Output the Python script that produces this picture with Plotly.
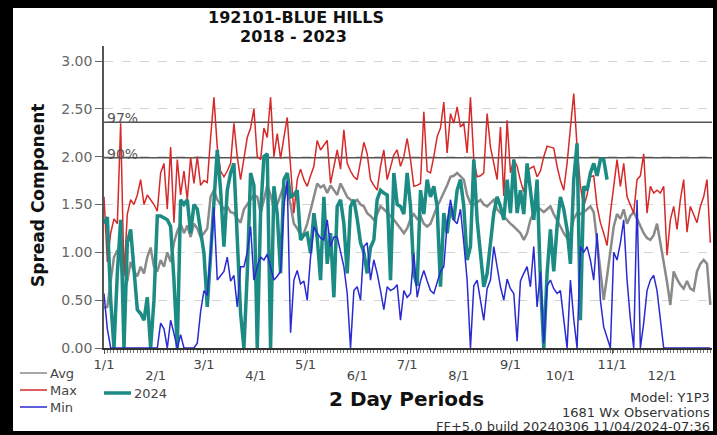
import plotly.graph_objects as go

# ---------------- data ----------------
month_start_days = [0, 31, 60, 91, 121, 152, 182, 213, 244, 274, 305, 335]
month_labels = ["1/1", "2/1", "3/1", "4/1", "5/1", "6/1", "7/1", "8/1", "9/1", "10/1", "11/1", "12/1"]

max_vals = [
    1.58, 0.90, 1.20, 1.35, 1.30, 2.35, 0.75, 1.40, 1.55, 1.50,
    1.60, 1.76, 1.50, 1.60, 1.55, 1.50, 1.43, 1.83, 1.93, 1.45,
    2.10, 1.31, 1.97, 1.60, 1.85, 1.55, 1.99, 1.72, 2.00, 1.70,
    1.75, 1.73, 2.20, 2.62, 2.10, 1.85, 1.79, 1.85, 1.93, 2.35,
    2.00, 1.76, 1.98, 2.20, 2.30, 2.50, 2.00, 1.97, 2.30, 2.20,
    2.62, 2.00, 2.24, 1.98, 2.20, 2.41, 1.90, 1.41, 1.76, 1.87,
    1.76, 1.69, 1.80, 1.90, 2.17, 2.07, 2.12, 2.17, 1.72, 1.90,
    2.07, 1.87, 2.28, 1.93, 1.85, 1.79, 1.76, 1.95, 2.15, 2.03,
    1.76, 1.70, 1.65, 1.90, 2.07, 1.76, 1.90, 2.02, 2.07, 1.90,
    2.00, 2.19, 1.97, 1.69, 1.70, 1.72, 2.47, 1.85, 1.83, 2.00,
    2.21, 2.30, 2.57, 2.04, 2.45, 2.35, 2.52, 2.31, 2.35, 2.04,
    2.62, 1.97, 1.79, 1.80, 1.83, 2.45, 2.10, 1.93, 1.76, 2.31,
    1.59, 2.38, 1.83, 1.97, 1.90, 1.75, 1.63, 1.86, 1.88, 1.90,
    1.79, 1.85, 2.00, 2.11, 2.10, 2.09, 1.90, 1.75, 1.65, 1.93,
    2.30, 2.66, 2.10, 1.69, 1.48, 1.60, 1.79, 1.80, 1.48, 1.31,
    1.20, 1.07, 1.41, 1.69, 1.97, 1.69, 1.93, 1.58, 1.50, 1.41,
    1.76, 1.80, 2.03, 1.41, 1.69, 1.62, 1.65, 1.62, 1.69, 0.97,
    1.34, 1.48, 1.24, 1.55, 1.76, 1.21, 1.48, 1.40, 1.31, 1.48,
    1.58, 1.76, 1.10,
]

avg_vals = [
    0.42, 0.43, 0.70, 0.95, 1.02, 0.90, 0.60, 0.70, 0.90, 0.80,
    0.75, 0.85, 0.78, 0.95, 1.05, 0.85, 0.80, 0.92, 0.85, 1.00,
    0.90, 1.10, 1.22, 1.30, 1.20, 1.28, 1.16, 1.30, 1.25, 1.16,
    1.20, 1.25, 1.58, 1.65, 1.55, 1.50, 1.45, 1.48, 1.42, 1.41,
    1.35, 1.31, 1.45, 1.50, 1.55, 1.60, 1.58, 1.41, 1.55, 1.70,
    1.60, 1.45, 1.50, 1.60, 1.70, 1.62, 1.50, 1.30, 1.25, 1.18,
    1.20, 1.30, 1.45, 1.60, 1.72, 1.68, 1.70, 1.62, 1.70, 1.65,
    1.60, 1.72, 1.65, 1.58, 1.55, 1.52, 1.55, 1.50, 1.48, 1.41,
    1.38, 1.34, 1.40, 1.48, 1.45, 1.42, 1.38, 1.34, 1.30, 1.25,
    1.20, 1.25, 1.35, 1.40, 1.35, 1.38, 1.30, 1.27, 1.30, 1.40,
    1.48, 1.55, 1.62, 1.70, 1.79, 1.80, 1.83, 1.80, 1.76, 1.60,
    1.51, 1.50, 1.52, 1.55, 1.50, 1.48, 1.52, 1.55, 1.45, 1.41,
    1.38, 1.34, 1.30, 1.27, 1.24, 1.20, 1.13, 1.20, 1.34, 1.42,
    1.48, 1.45, 1.42, 1.45, 1.48, 1.40, 1.34, 1.27, 1.20, 1.15,
    1.20, 1.35, 1.41, 1.40, 1.42, 1.45, 1.48, 1.42, 1.10, 0.80,
    0.50, 0.75, 1.00, 1.27, 1.40, 1.35, 1.45, 1.30, 1.38, 1.42,
    1.35, 1.27, 1.20, 1.15, 1.13, 1.18, 1.30, 1.10, 0.90, 0.69,
    0.45, 0.80, 0.72, 0.66, 0.62, 0.70, 0.62, 0.60, 0.80, 0.88,
    0.92, 0.88, 0.45,
]

min_vals = [
    0.57, 0.20, 0.00, 0.00, 0.00, 0.00, 0.00, 0.00, 0.00, 0.00,
    0.00, 0.00, 0.00, 0.00, 0.00, 0.00, 0.00, 0.26, 0.20, 0.00,
    0.29, 0.15, 0.00, 0.14, 0.00, 0.00, 0.00, 0.00, 0.05, 0.38,
    0.60, 0.55, 0.99, 1.47, 0.71, 0.75, 0.80, 0.95, 0.70, 0.76,
    0.43, 0.85, 0.85, 1.00, 1.27, 0.71, 0.85, 0.95, 0.92, 0.98,
    0.85, 0.71, 0.75, 0.80, 1.48, 1.75, 0.16, 0.71, 0.81, 0.67,
    0.70, 0.50, 0.95, 1.27, 1.20, 1.15, 1.13, 1.34, 1.06, 1.16,
    1.16, 1.00, 0.85, 0.57, 0.00, 0.60, 0.64, 0.50, 1.06, 1.10,
    0.71, 0.92, 0.78, 0.60, 0.40, 0.64, 0.60, 0.62, 0.66, 0.29,
    0.60, 0.53, 0.57, 0.99, 0.53, 0.70, 0.81, 0.70, 0.60, 0.57,
    0.70, 0.80, 0.85, 1.30, 1.55, 1.34, 1.30, 1.45, 1.10, 0.71,
    0.00, 0.65, 0.71, 0.50, 0.29, 0.62, 0.71, 1.06, 0.85, 0.64,
    0.50, 0.72, 0.62, 0.57, 0.07, 0.70, 0.78, 0.85, 0.64, 1.06,
    0.43, 0.80, 0.05, 0.65, 0.71, 0.62, 0.57, 0.60, 0.30, 0.00,
    0.71, 0.30, 0.00, 1.06, 1.00, 1.06, 0.92, 0.71, 1.20, 0.50,
    0.22, 0.10, 0.00, 1.00, 0.92, 1.10, 1.34, 0.71, 0.30, 0.00,
    1.55, 0.00, 0.26, 0.60, 0.71, 0.76, 0.60, 0.30, 0.00, 0.00,
    0.00, 0.00, 0.00, 0.00, 0.00, 0.00, 0.00, 0.00, 0.00, 0.00,
    0.00, 0.00, 0.00,
]

y2024_vals = [
    1.30, 1.37, 0.50, 0.00, 0.78, 1.34, 0.00, 1.10, 1.24, 0.80,
    0.40, 0.36, 0.29, 0.53, 0.00, 0.50, 1.38, 1.38, 1.36, 1.34,
    1.27, 0.71, 0.00, 1.55, 1.50, 1.55, 1.20, 1.50, 1.45, 1.20,
    0.99, 0.43, 1.00, 1.55, 2.07, 1.65, 1.06, 1.65, 1.83, 1.93,
    1.06, 0.36, 0.00, 0.78, 1.83, 1.70, 0.00, 1.41, 2.00, 2.03,
    0.00, 1.69, 1.40, 0.78, 1.76, 1.83, 1.58, 1.60, 1.65, 1.13,
    1.18, 1.20, 0.99, 1.41, 1.15, 0.71, 1.58, 0.88, 1.20, 0.53,
    1.48, 1.55, 1.30, 0.78, 1.48, 1.55, 1.35, 1.10, 1.00, 0.78,
    1.05, 1.13, 1.55, 1.65, 1.62, 1.60, 0.71, 1.83, 1.50, 1.48,
    1.40, 1.83, 1.48, 0.78, 0.65, 1.65, 1.40, 1.76, 1.58, 1.69,
    1.48, 0.64, 1.41, 1.20, 1.48, 1.34, 1.65, 1.76, 1.48, 0.92,
    1.06, 1.97, 1.34, 0.99, 0.64, 0.78, 1.13, 1.41, 1.58, 1.48,
    1.34, 1.76, 1.41, 1.97, 1.41, 1.65, 1.40, 1.93, 1.65, 1.34,
    1.76, 0.71, 0.00, 0.78, 1.24, 0.80, 1.27, 1.58, 1.45, 1.24,
    0.88, 1.76, 2.14, 0.29, 1.69, 1.65, 1.83, 1.93, 1.80, 1.97,
    1.97, 1.76,
]

pct_levels = [2.36, 1.99]
pct_labels = ["97%", "90%"]
y_ticks = [0.0, 0.5, 1.0, 1.5, 2.0, 2.5, 3.0]

period_days = [2 * i for i in range(len(max_vals))]
days_2024 = period_days[:len(y2024_vals)]

# ---------------- styling ----------------
FONT = "DejaVu Sans"
C_AVG = "#8a8a8a"
C_MAX = "#d62a2a"
C_MIN = "#2a2ad2"
C_2024 = "#1b8b84"

W, H = 717, 435
L, R, T, B = 104, 5, 46, 87
PW, PH = W - L - R, H - T - B


def fx(p):
    return (p - L) / PW


def fy(p):
    return (H - B - p) / PH


def txt(text, x, y, size=14, color="#333", xanchor="center", **kw):
    return dict(text=text, x=fx(x), y=fy(y), xref="paper", yref="paper",
                xanchor=xanchor, yanchor="middle", showarrow=False,
                font=dict(family=FONT, size=size, color=color), **kw)


fig = go.Figure()
fig.add_trace(go.Scatter(x=period_days, y=avg_vals, mode="lines",
                         line=dict(color=C_AVG, width=2.5), name="Avg"))
fig.add_trace(go.Scatter(x=period_days, y=max_vals, mode="lines",
                         line=dict(color=C_MAX, width=1.5), name="Max"))
fig.add_trace(go.Scatter(x=days_2024, y=y2024_vals, mode="lines",
                         line=dict(color=C_2024, width=3.5), name="2024"))
fig.add_trace(go.Scatter(x=period_days, y=min_vals, mode="lines",
                         line=dict(color=C_MIN, width=1.5), name="Min"))
# helper trace so the second (label-only) x axis is drawn
fig.add_trace(go.Scatter(x=[0], y=[0], xaxis="x2", mode="markers",
                         marker=dict(opacity=0), showlegend=False, hoverinfo="skip"))

shapes = [
    dict(type="rect", xref="paper", yref="paper", layer="below",
         x0=fx(13), x1=fx(713), y0=fy(431), y1=fy(8),
         fillcolor="white", line=dict(width=0)),
]
for lv in pct_levels:
    shapes.append(dict(type="line", xref="paper", yref="y", layer="below",
                       x0=0, x1=1, y0=lv, y1=lv,
                       line=dict(color="#555555", width=1.5)))

annotations = [
    txt("<b>192101-BLUE HILLS</b>", 296, 18, size=16, color="#111"),
    txt("<b>2018 - 2023</b>", 293, 36, size=16, color="#111"),
    txt("<b>Spread Component</b>", 38, 196, size=17, color="#111", textangle=-90),
    txt("<b>2 Day Periods</b>", 406, 399, size=20, color="#111"),
    txt("Model: Y1P3", 712, 397, size=13, xanchor="right"),
    txt("1681 Wx Observations", 712, 412, size=13, xanchor="right"),
    txt("FF+5.0 build 20240306 11/04/2024-07:36", 712, 426.5, size=13, xanchor="right"),
]
for lv, lab in zip(pct_levels, pct_labels):
    annotations.append(dict(text=lab, x=fx(105), y=lv, xref="paper", yref="y",
                            xanchor="left", yanchor="middle", yshift=4, showarrow=False,
                            font=dict(family=FONT, size=14, color="#555")))

# manual legend
legend_items = [("Avg", C_AVG, 1.5, 20, 373), ("Max", C_MAX, 1.5, 20, 390),
                ("Min", C_MIN, 1.5, 20, 407), ("2024", C_2024, 3.5, 104, 393)]
for name, col, wd, x0, yy in legend_items:
    shapes.append(dict(type="line", xref="paper", yref="paper",
                       x0=fx(x0), x1=fx(x0 + 27), y0=fy(yy), y1=fy(yy),
                       line=dict(color=col, width=wd)))
    annotations.append(txt(name, x0 + 28, yy, size=13, color="#444", xanchor="left"))

fig.update_layout(
    width=W, height=H,
    margin=dict(l=L, r=R, t=T, b=B),
    paper_bgcolor="black",
    plot_bgcolor="rgba(0,0,0,0)",
    showlegend=False,
    shapes=shapes,
    annotations=annotations,
    xaxis=dict(
        range=[0, 365], showgrid=False, zeroline=False,
        showline=True, linecolor="#333", linewidth=1.5,
        tickmode="array", tickvals=month_start_days[0::2], ticktext=month_labels[0::2],
        ticks="outside", ticklen=4, tickcolor="#555",
        ticklabelstandoff=0,
        tickfont=dict(family=FONT, size=13, color="#444"),
        minor=dict(tickmode="array", tickvals=list(range(0, 366, 2)),
                   ticks="outside", ticklen=3, tickcolor="#777"),
    ),
    xaxis2=dict(
        overlaying="x", matches="x", anchor="y", side="bottom",
        showgrid=False, zeroline=False, showline=False,
        tickmode="array", tickvals=month_start_days[1::2], ticktext=month_labels[1::2],
        ticks="", ticklabelstandoff=18,
        tickfont=dict(family=FONT, size=13, color="#444"),
    ),
    yaxis=dict(
        range=[0, 3.157], zeroline=False,
        showline=True, linecolor="#555", linewidth=1.5,
        tickmode="array", tickvals=y_ticks, tickformat=".2f",
        ticks="outside", ticklen=7, tickcolor="#666",
        tickfont=dict(family=FONT, size=14, color="#666"),
        showgrid=True, gridcolor="#d4d4d4", griddash="dash", gridwidth=1,
    ),
)

fig.write_html(
    "out.html",
    config={"displayModeBar": False},
    post_script="document.body.style.margin='0';document.body.style.background='black';",
)
